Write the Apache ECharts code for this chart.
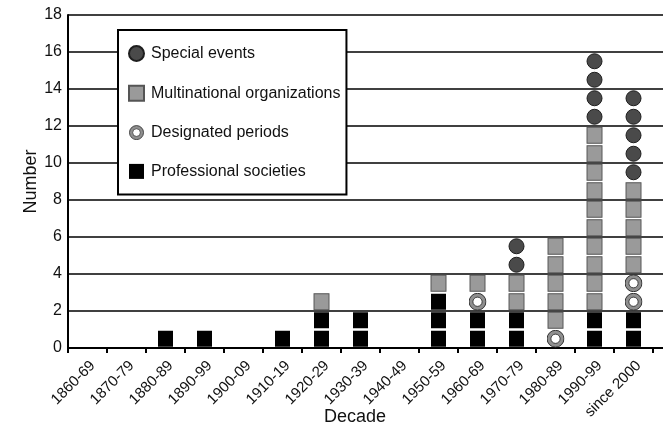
<!DOCTYPE html>
<html>
<head>
<meta charset="utf-8">
<script src="https://cdn.jsdelivr.net/npm/echarts@6/dist/echarts.min.js"></script>
<style>
html,body{margin:0;padding:0;background:#fff;}
#chart{width:663px;height:425px;}
</style>
</head>
<body>
<div id="chart"></div>
<script>
// ---- data (counts per decade) ----
const categories = ['1860-69','1870-79','1880-89','1890-99','1900-09','1910-19','1920-29','1930-39','1940-49','1950-59','1960-69','1970-79','1980-89','1990-99','since 2000'];
const professionalSocieties   = [0,0,1,1,0,1,2,2,0,3,2,2,0,2,2];
const designatedPeriods       = [0,0,0,0,0,0,0,0,0,0,1,0,1,0,2];
const multinationalOrgs       = [0,0,0,0,0,0,1,0,0,1,1,2,5,10,5];
const specialEvents           = [0,0,0,0,0,0,0,0,0,0,0,2,0,4,5];
const yTicks = [0,2,4,6,8,10,12,14,16,18];

// stack order, bottom to top
const stackOrder = [professionalSocieties, designatedPeriods, multinationalOrgs, specialEvents];
const base = categories.map(() => 0);
const points = stackOrder.map(counts => {
  const pts = [];
  counts.forEach((n, i) => {
    for (let k = 0; k < n; k++) pts.push([i, base[i] + k + 0.5]);
    base[i] += n;
  });
  return pts;
});
const catIdx = categories.map((c, i) => i);
const boundaries = categories.map((c, i) => i - 0.5).concat([categories.length - 0.5]);

const ringSvg = "<svg xmlns='http://www.w3.org/2000/svg' width='36' height='36' viewBox='0 0 36 36'><circle cx='18' cy='18' r='16.9' fill='#8f8f8f' stroke='#222' stroke-width='1.8'/><circle cx='18' cy='18' r='9.2' fill='#fff' stroke='#222' stroke-width='1.6'/></svg>";
const ringSymbol = 'image://data:image/svg+xml;utf8,' + encodeURIComponent(ringSvg);

const FONT = 'Liberation Sans, Arial, Helvetica, sans-serif';
const chart = echarts.init(document.getElementById('chart'), null, {renderer: 'canvas'});
chart.setOption({
  animation: false,
  backgroundColor: '#fff',
  textStyle: {fontFamily: FONT},
  grid: {left: 68, top: 15, right: 0, bottom: 77, containLabel: false, outerBoundsMode: 'none'},
  legend: {
    orient: 'vertical',
    left: 118, top: 30,
    padding: [15, 6, 15, 10],
    itemGap: 22.8,
    itemWidth: 15, itemHeight: 15,
    backgroundColor: '#fff',
    borderColor: '#000', borderWidth: 2,
    textStyle: {fontSize: 16, color: '#111', fontFamily: FONT, padding: [0, 0, 0, 2]},
    data: ['Special events', 'Multinational organizations', 'Designated periods', 'Professional societies']
  },
  xAxis: {
    type: 'value',
    min: -0.5, max: 14.756,
    name: 'Decade',
    nameLocation: 'middle',
    nameGap: 60,
    nameMoveOverlap: false,
    nameTextStyle: {fontSize: 18, color: '#111', fontFamily: FONT, padding: [0, 21, 0, 0]},
    axisLine: {show: true, onZero: false, lineStyle: {color: '#000', width: 2}},
    axisTick: {show: true, customValues: boundaries, length: 5, lineStyle: {color: '#000', width: 2}},
    axisLabel: {customValues: catIdx, formatter: v => categories[Math.round(v)] || '',
                rotate: 45, fontSize: 15, color: '#111', margin: 10, verticalAlign: 'top', fontFamily: FONT},
    splitLine: {show: false}
  },
  yAxis: {
    type: 'value',
    min: yTicks[0], max: yTicks[yTicks.length - 1], interval: 2,
    name: 'Number',
    nameLocation: 'middle',
    nameGap: 28,
    nameMoveOverlap: false,
    nameTextStyle: {fontSize: 18, color: '#111', fontFamily: FONT},
    axisLine: {show: true, onZero: false, lineStyle: {color: '#000', width: 2}},
    axisTick: {show: false},
    axisLabel: {fontSize: 16, color: '#111', margin: 6, fontFamily: FONT},
    splitLine: {show: true, lineStyle: {color: '#000', width: 1.6}}
  },
  series: [
    {name: 'Professional societies', type: 'scatter', symbol: 'rect', symbolSize: [15, 16],
     itemStyle: {color: '#000', opacity: 1}, data: points[0], z: 3},
    {name: 'Designated periods', type: 'scatter', symbol: ringSymbol, symbolSize: 18,
     itemStyle: {color: '#8f8f8f', opacity: 1}, data: points[1], z: 3},
    {name: 'Multinational organizations', type: 'scatter', symbol: 'rect', symbolSize: [15, 16],
     itemStyle: {color: '#9a9a9a', borderColor: '#555', borderWidth: 1, opacity: 1}, data: points[2], z: 3},
    {name: 'Special events', type: 'scatter', symbol: 'circle', symbolSize: 15,
     itemStyle: {color: '#4a4a4a', borderColor: '#1e1e1e', borderWidth: 1, opacity: 1}, data: points[3], z: 3}
  ]
});
</script>
</body>
</html>
